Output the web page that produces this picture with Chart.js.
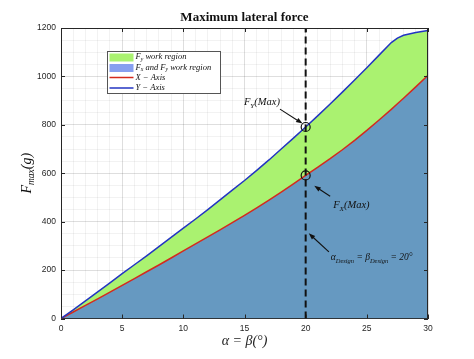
<!DOCTYPE html>
<html>
<head>
<meta charset="utf-8">
<script src="https://cdn.jsdelivr.net/npm/chart.js@4.4.0/dist/chart.umd.min.js"></script>
<style>
  html, body { margin: 0; padding: 0; background: #fff; }
  #wrap { width: 474px; height: 359px; }
</style>
</head>
<body>
<div id="wrap"><canvas id="chart"></canvas></div>
<script>
// angle alpha = beta (deg)
const alphaDeg = [0, 1, 2, 3, 4, 5, 6, 7, 8, 9, 10, 11, 12, 13, 14, 15, 16, 17, 18, 19, 20,
                  21, 22, 23, 24, 25, 26, 27, 27.5, 28, 29, 30];
// max lateral force along X (red)
const fxMax = [0, 27, 54, 81, 109, 137, 165, 193, 221, 250, 279, 308, 337, 366, 396, 426, 457, 489, 522, 556, 591,
               625, 660, 697, 736, 777, 820, 864, 887, 910, 957, 1005];
// max lateral force along Y (blue)
const fyMax = [0, 36, 73, 110, 147, 185, 222, 259, 297, 335, 373, 411, 450, 490, 530, 570, 612, 655, 700, 745, 791,
               838, 886, 935, 985, 1036, 1088, 1140, 1158, 1170, 1181, 1190];

const designAlpha = 20;
const designPoints = [791, 591];
const xTicks = [0, 5, 10, 15, 20, 25, 30];
const yTicks = [0, 200, 400, 600, 800, 1000, 1200];
const legendLabels = ['F_{y} work region', 'F_{x} and F_{y} work region', 'X − Axis', 'Y − Axis'];

const COL = {
  fxFill: '#6699c1',
  fyFill: '#aaf270',
  fxLegend: '#879ff0',
  red: '#d42a1e',
  blue: '#2335c2',
  ink: '#262626'
};

const pts = ys => alphaDeg.map((a, i) => ({ x: a, y: ys[i] }));

// italic serif text with _{..} subscripts
function mathText(ctx, str, x, y, size, align) {
  const parts = [];
  const re = /_\{([^}]*)\}/g;
  let last = 0, m;
  while ((m = re.exec(str))) {
    if (m.index > last) parts.push({ t: str.slice(last, m.index), sub: false });
    parts.push({ t: m[1], sub: true });
    last = re.lastIndex;
  }
  if (last < str.length) parts.push({ t: str.slice(last), sub: false });
  const fontFor = sub => `italic ${sub ? size * 0.68 : size}px "Liberation Serif", serif`;
  let w = 0;
  parts.forEach(p => { ctx.font = fontFor(p.sub); p.w = ctx.measureText(p.t).width; w += p.w; });
  let cx = align === 'center' ? x - w / 2 : x;
  ctx.textBaseline = 'middle';
  ctx.textAlign = 'left';
  parts.forEach(p => {
    ctx.font = fontFor(p.sub);
    ctx.fillText(p.t, cx, y + (p.sub ? size * 0.3 : 0));
    cx += p.w;
  });
  return w;
}

function arrow(ctx, x1, y1, x2, y2) {
  const ang = Math.atan2(y2 - y1, x2 - x1);
  ctx.beginPath();
  ctx.moveTo(x1, y1);
  ctx.lineTo(x2 - 4 * Math.cos(ang), y2 - 4 * Math.sin(ang));
  ctx.stroke();
  ctx.beginPath();
  ctx.moveTo(x2, y2);
  ctx.lineTo(x2 - 7 * Math.cos(ang - 0.35), y2 - 7 * Math.sin(ang - 0.35));
  ctx.lineTo(x2 - 7 * Math.cos(ang + 0.35), y2 - 7 * Math.sin(ang + 0.35));
  ctx.closePath();
  ctx.fill();
}

const decorations = {
  id: 'decorations',
  afterDraw(chart) {
    const { ctx, chartArea: a, scales: { x, y } } = chart;
    ctx.save();

    // box + inward ticks
    ctx.strokeStyle = COL.ink;
    ctx.lineWidth = 1;
    ctx.beginPath();
    ctx.moveTo(a.left, a.top + 0.5); ctx.lineTo(a.right, a.top + 0.5);
    ctx.moveTo(a.right - 0.5, a.top); ctx.lineTo(a.right - 0.5, a.bottom);
    xTicks.forEach(v => {
      const px = Math.round(x.getPixelForValue(v)) + 0.5;
      ctx.moveTo(px, a.bottom); ctx.lineTo(px, a.bottom - 4);
      ctx.moveTo(px, a.top); ctx.lineTo(px, a.top + 4);
    });
    yTicks.forEach(v => {
      const py = Math.round(y.getPixelForValue(v)) + 0.5;
      ctx.moveTo(a.left, py); ctx.lineTo(a.left + 4, py);
      ctx.moveTo(a.right, py); ctx.lineTo(a.right - 4, py);
    });
    ctx.stroke();

    // y axis title
    ctx.fillStyle = '#111';
    ctx.save();
    ctx.translate(27, (a.top + a.bottom) / 2);
    ctx.rotate(-Math.PI / 2);
    mathText(ctx, 'F_{max}(g)', 0, 0, 14, 'center');
    ctx.restore();

    // annotations with arrows (anchored in data units)
    const P = (vx, vy) => [x.getPixelForValue(vx), y.getPixelForValue(vy)];
    ctx.strokeStyle = '#111';
    ctx.fillStyle = '#111';
    ctx.lineWidth = 1.1;
    let t = P(14.95, 892);
    mathText(ctx, 'F_{Y}(Max)', t[0], t[1], 10.5, 'left');
    let s = P(17.9, 865), e = P(19.75, 805);
    arrow(ctx, s[0], s[1], e[0], e[1]);

    t = P(22.25, 466);
    mathText(ctx, 'F_{X}(Max)', t[0], t[1], 10.5, 'left');
    s = P(22.0, 505); e = P(20.7, 548);
    arrow(ctx, s[0], s[1], e[0], e[1]);

    t = P(22.05, 250);
    mathText(ctx, 'α_{Design} = β_{Design} = 20°', t[0], t[1], 9.5, 'left');
    s = P(21.9, 275); e = P(20.25, 352);
    arrow(ctx, s[0], s[1], e[0], e[1]);

    // legend box
    const lx = 107.5, ly = 51.5, lw = 113, lh = 42;
    ctx.fillStyle = '#fff';
    ctx.fillRect(lx, ly, lw, lh);
    ctx.strokeStyle = '#555';
    ctx.lineWidth = 1;
    ctx.strokeRect(lx, ly, lw, lh);
    const swatches = [
      c => { c.fillStyle = COL.fyFill; c.fillRect(lx + 2, ly + 2, 24, 8); },
      c => { c.fillStyle = COL.fxLegend; c.fillRect(lx + 2, ly + 12.5, 24, 8); },
      c => { c.strokeStyle = COL.red; c.lineWidth = 1.5; c.beginPath(); c.moveTo(lx + 2, ly + 26); c.lineTo(lx + 26, ly + 26); c.stroke(); },
      c => { c.strokeStyle = COL.blue; c.lineWidth = 1.5; c.beginPath(); c.moveTo(lx + 2, ly + 36.5); c.lineTo(lx + 26, ly + 36.5); c.stroke(); }
    ];
    legendLabels.forEach((lab, i) => {
      swatches[i](ctx);
      ctx.fillStyle = '#111';
      mathText(ctx, lab, lx + 28, ly + 5.5 + i * 10.4, 8.5, 'left');
    });

    ctx.restore();
  }
};

new Chart(document.getElementById('chart'), {
  type: 'line',
  data: {
    datasets: [
      { label: 'Fx and Fy work region', data: pts(fxMax), fill: 'origin', backgroundColor: COL.fxFill,
        borderWidth: 0, pointRadius: 0, order: 6 },
      { label: 'Fy work region', data: pts(fyMax), fill: 0, backgroundColor: COL.fyFill,
        borderWidth: 0, pointRadius: 0, order: 5 },
      { label: 'X − Axis', data: pts(fxMax), borderColor: COL.red, borderWidth: 1.5,
        pointRadius: 0, fill: false, order: 4 },
      { label: 'Y − Axis', data: pts(fyMax), borderColor: COL.blue, borderWidth: 1.5,
        pointRadius: 0, fill: false, order: 3 },
      { label: 'design', data: [{ x: designAlpha, y: 0 }, { x: designAlpha, y: 1200 }], borderColor: '#111',
        borderWidth: 2, borderDash: [7, 4], pointRadius: 0, fill: false, order: 2 },
      { label: 'max', data: designPoints.map(v => ({ x: designAlpha, y: v })), showLine: false,
        pointRadius: 4.5, pointBorderWidth: 1.2, pointBorderColor: '#111',
        pointBackgroundColor: 'rgba(0,0,0,0)', order: 1 }
    ]
  },
  options: {
    responsive: true,
    maintainAspectRatio: false,
    animation: false,
    layout: { padding: { left: 0, right: 46, top: 0, bottom: 0 } },
    plugins: {
      legend: { display: false },
      tooltip: { enabled: false },
      title: {
        display: true,
        text: 'Maximum lateral force',
        fullSize: false,
        color: '#111',
        font: { family: '"Liberation Serif", serif', weight: 'bold', size: 13 },
        padding: { top: 10, bottom: 2.4 }
      }
    },
    scales: {
      x: {
        type: 'linear',
        min: 0, max: 30,
        ticks: {
          stepSize: 1, autoSkip: false, maxRotation: 0, padding: 5,
          color: COL.ink, font: { family: '"Liberation Sans", Arial', size: 8.5 },
          callback: v => (xTicks.includes(v) ? v : '')
        },
        grid: {
          drawTicks: false,
          color: c => (c.tick && xTicks.includes(c.tick.value) ? 'rgba(0,0,0,0.13)' : 'rgba(0,0,0,0.05)')
        },
        border: { color: COL.ink, width: 1 },
        title: {
          display: true, text: 'α = β(°)', color: '#222',
          font: { family: '"Liberation Serif", serif', style: 'italic', size: 14 },
          padding: { top: 0, bottom: 9 }
        },
        afterFit: s => { s.height = 40.5; }
      },
      y: {
        min: 0, max: 1200,
        ticks: {
          stepSize: 50, autoSkip: false, padding: 5,
          color: COL.ink, font: { family: '"Liberation Sans", Arial', size: 8.5 },
          callback: v => (yTicks.includes(v) ? v : '')
        },
        grid: {
          drawTicks: false,
          color: c => (c.tick && yTicks.includes(c.tick.value) ? 'rgba(0,0,0,0.13)' : 'rgba(0,0,0,0.05)')
        },
        border: { color: COL.ink, width: 1 },
        afterFit: s => { s.width = 61; }
      }
    }
  },
  plugins: [decorations]
});
</script>
</body>
</html>
